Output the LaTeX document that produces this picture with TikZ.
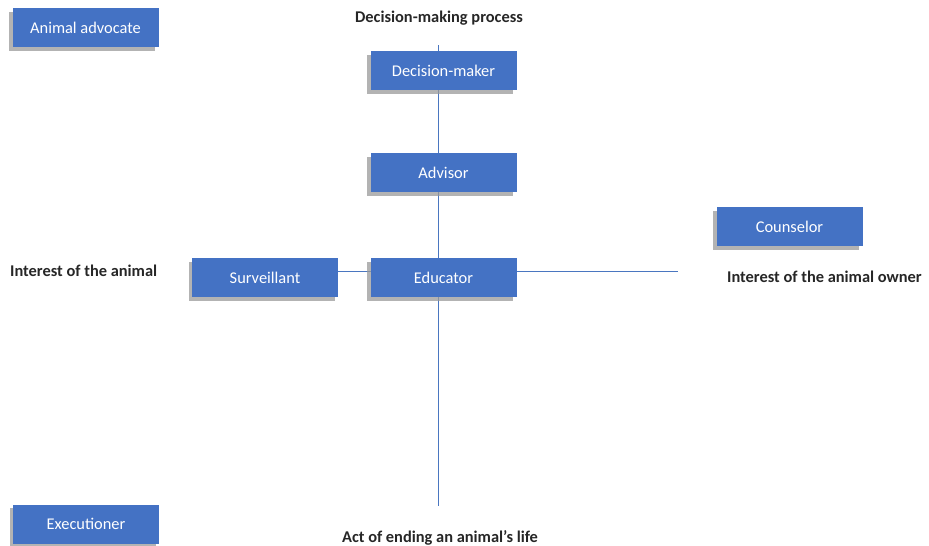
\documentclass[tikz,border=0pt]{standalone}
\usepackage{fontspec}
\setmainfont{Carlito}
\usetikzlibrary{shadows,backgrounds}
\definecolor{boxblue}{HTML}{4472C4}
\definecolor{lineblue}{HTML}{4A76C0}
\tikzset{
  rolebox/.style={fill=boxblue, text=white, minimum width=146pt, minimum height=39pt,
    inner sep=0pt, font=\fontsize{16.4}{18}\selectfont,
    drop shadow={shadow xshift=-3.5pt, shadow yshift=-3.5pt, fill=black!40, opacity=.75}},
  axislabel/.style={font=\bfseries\fontsize{16.4}{18}\selectfont, text=black!85, inner sep=0pt},
  axisline/.style={lineblue, line width=0.9pt}
}
\begin{document}
\begin{tikzpicture}[x=1pt,y=-1pt]
	\useasboundingbox (0,0) rectangle (929,546);
	% roles
	\node[rolebox] (advocate) at (85.5,27.5) {Animal advocate};
	\node[rolebox] (maker) at (443.5,70.5) {Decision-maker};
	\node[rolebox] (advisor) at (443.5,172.5) {Advisor};
	\node[rolebox] (counselor) at (789.5,226.5) {Counselor};
	\node[rolebox] (surveillant) at (265,277.5) {Surveillant};
	\node[rolebox] (educator) at (443.5,277.5) {Educator};
	\node[rolebox] (executioner) at (86,524) {Executioner};
	% axis ends
	\coordinate (vtop) at (438,45);
	\coordinate (vbot) at (438,506);
	\coordinate (hright) at (678,271);
	% labels
	\node[axislabel] (process) at (439,18) {Decision-making process};
	\node[axislabel, anchor=west] (animal) at (10,271) {Interest of the animal};
	\node[axislabel, anchor=west] (owner) at (727,277) {Interest of the animal owner};
	\node[axislabel] (ending) at (440,538) {Act of ending an animal’s life};
	\begin{pgfonlayer}{background}
		\draw[axisline] (vtop) -- (vbot);
		\draw[axisline] (surveillant.east |- hright) -- (hright);
	\end{pgfonlayer}
\end{tikzpicture}
\end{document}
